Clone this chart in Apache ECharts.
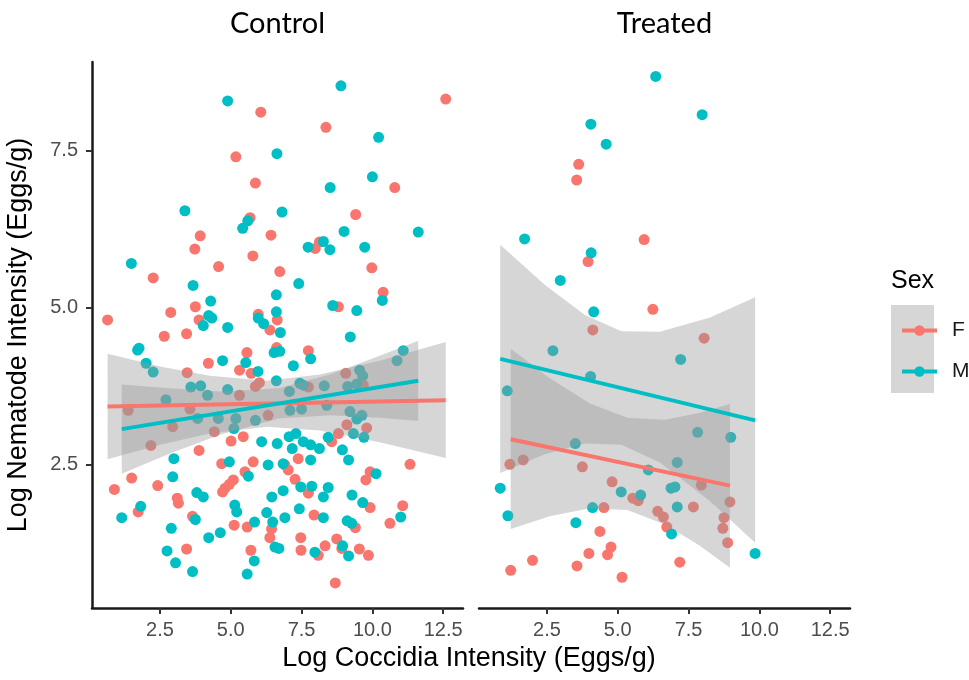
<!DOCTYPE html>
<html>
<head>
<meta charset="utf-8">
<title>Nematode vs Coccidia</title>
<style>
  body { margin: 0; background: #fff; }
  #main { width: 969px; height: 680px; }
</style>
</head>
<body>
<div id="main"></div>
<script src="https://cdn.jsdelivr.net/npm/echarts@6/dist/echarts.min.js"></script>
<script>
// data: [coccidia, nematode]
var ctrlF = [
  [12.59,8.32],[6.06,8.11],[8.36,7.87],[5.18,7.40],[10.79,6.91],[5.87,6.98],[9.41,6.48],[5.68,6.43],[3.92,6.14],[6.42,6.15],
  [8.13,6.04],[7.98,5.94],[3.73,5.93],[5.78,5.82],[4.57,5.65],[9.98,5.63],[6.73,5.57],[2.26,5.47],[10.38,5.24],[8.80,5.01],
  [3.75,5.01],[2.88,4.92],[0.65,4.80],[3.88,4.80],[5.97,4.89],[6.64,4.80],[6.38,4.64],[2.65,4.54],[3.44,4.58],[5.57,4.28],
  [6.62,4.36],[7.74,4.31],[4.21,4.11],[3.46,3.96],[5.31,4.00],[5.72,3.95],[9.06,3.95],[6.01,3.80],[5.87,3.74],[5.31,3.60],
  [7.74,3.73],[9.68,3.76],[1.38,3.36],[3.56,3.38],[6.32,3.28],[2.95,3.10],[4.42,3.02],[9.10,3.13],[9.80,3.08],[2.18,2.80],
  [5.44,2.94],[5.01,2.87],[8.56,2.86],[8.80,2.99],[3.88,2.72],[4.68,2.51],[5.79,2.54],[6.91,2.49],[7.38,2.59],[11.33,2.50],
  [1.50,2.28],[5.50,2.38],[7.03,2.41],[7.27,2.26],[9.92,2.38],[9.77,2.25],[0.89,2.10],[2.42,2.16],[5.09,2.25],[4.95,2.18],
  [4.80,2.12],[4.71,2.06],[7.74,2.04],[3.11,1.96],[3.15,1.88],[9.92,1.81],[11.07,1.84],[1.73,1.74],[7.94,1.69],[3.65,1.67],
  [9.40,1.49],[10.62,1.56],[5.12,1.53],[5.58,1.50],[6.44,1.47],[6.38,1.33],[7.47,1.33],[8.74,1.31],[3.44,1.15],[5.71,1.13],
  [7.48,1.13],[8.33,1.20],[8.92,1.16],[8.09,1.05],[9.54,1.15],[9.86,1.05],[8.69,0.61]
];
var ctrlM = [
  [8.89,8.53],[4.89,8.29],[10.22,7.71],[6.63,7.45],[10.00,7.08],[8.51,6.91],[3.38,6.54],[6.81,6.52],[5.60,6.38],[5.42,6.26],
  [11.62,6.20],[9.00,6.21],[8.27,6.05],[7.73,5.96],[8.50,5.92],[9.73,5.96],[1.49,5.70],[7.40,5.38],[3.67,5.35],[6.61,5.20],
  [10.35,5.11],[4.29,5.10],[8.60,5.03],[9.45,4.95],[4.22,4.87],[4.33,4.83],[4.03,4.71],[4.89,4.68],[6.61,4.93],[6.16,4.74],
  [6.75,4.60],[5.97,4.83],[9.22,4.53],[1.76,4.35],[1.71,4.32],[6.53,4.28],[6.73,4.30],[7.82,4.18],[11.09,4.31],[10.87,4.15],
  [4.71,4.15],[5.53,4.12],[2.01,4.11],[2.26,3.97],[5.96,3.98],[7.21,4.07],[9.55,4.00],[6.61,3.83],[3.59,3.73],[3.94,3.75],
  [4.18,3.60],[4.89,3.69],[7.07,3.66],[7.44,3.79],[7.56,3.76],[8.30,3.75],[9.13,3.74],[9.45,3.78],[9.66,3.91],[2.71,3.53],
  [3.83,3.23],[4.56,3.23],[5.18,3.23],[5.87,3.20],[7.09,3.36],[7.50,3.38],[8.39,3.44],[9.21,3.34],[9.63,3.28],[9.45,3.22],
  [5.11,3.07],[9.33,2.99],[9.70,2.93],[6.09,2.86],[6.64,2.83],[7.06,2.94],[7.30,2.99],[7.17,2.75],[7.56,2.86],[7.82,2.81],
  [8.13,2.75],[8.44,2.93],[8.94,2.73],[2.99,2.59],[4.95,2.54],[6.32,2.49],[6.85,2.51],[7.82,2.57],[9.16,2.57],[2.95,2.30],
  [5.62,2.31],[10.13,2.35],[7.47,2.14],[7.86,2.15],[8.44,2.13],[6.85,2.08],[6.45,1.98],[8.27,1.98],[3.80,2.05],[4.03,1.98],
  [9.28,2.01],[9.66,1.89],[1.82,1.83],[1.15,1.65],[5.14,1.85],[5.21,1.74],[6.27,1.73],[7.42,1.79],[6.91,1.65],[8.27,1.65],
  [3.75,1.62],[6.48,1.58],[5.84,1.58],[11.00,1.66],[9.11,1.60],[9.27,1.56],[2.90,1.48],[4.63,1.41],[4.22,1.33],[6.56,1.18],
  [6.70,1.16],[2.75,1.12],[7.97,1.10],[8.95,1.20],[9.16,1.04],[3.05,0.93],[5.83,0.96],[3.65,0.79],[5.58,0.75]
];
var trtF = [
  [3.62,7.28],[3.55,7.03],[5.93,6.08],[3.95,5.73],[6.24,4.97],[4.12,4.64],[8.05,4.51],[1.19,2.50],[1.66,2.57],[3.75,2.46],
  [4.80,2.22],[7.95,2.17],[5.53,1.96],[5.72,1.92],[8.96,1.90],[7.67,1.82],[4.51,1.81],[6.41,1.75],[6.61,1.66],[8.75,1.65],
  [6.73,1.50],[8.71,1.48],[4.37,1.43],[8.88,1.25],[4.76,1.18],[4.64,1.06],[3.98,1.08],[1.99,0.97],[1.22,0.81],[3.56,0.88],
  [7.19,0.94],[5.15,0.70]
];
var trtM = [
  [6.34,8.68],[7.98,8.07],[4.05,7.92],[4.59,7.60],[1.71,6.09],[4.06,5.87],[2.97,5.43],[4.15,4.93],[2.71,4.31],[7.22,4.17],
  [4.04,3.90],[1.10,3.67],[7.82,3.01],[8.99,2.93],[3.50,2.83],[7.10,2.53],[6.08,2.41],[5.12,2.06],[5.81,2.01],[6.88,2.12],
  [7.02,2.14],[0.85,2.12],[7.10,1.82],[4.11,1.81],[1.12,1.68],[3.52,1.57],[6.90,1.39],[9.85,1.08]
];

// fitted lines (end points) and confidence bands [x, lower, upper]
var fitCtrlF = [[0.65,3.42],[12.59,3.52]];
var fitCtrlM = [[1.15,3.06],[11.62,3.83]];
var fitTrtF = [[1.22,2.90],[8.96,2.16]];
var fitTrtM = [[0.85,4.18],[9.85,3.20]];

var bandCtrlF = [[0.65,2.58,4.26],[2.50,2.81,4.06],[4.26,2.99,3.91],[6.27,3.10,3.83],[8.14,3.04,3.93],[10.26,2.85,4.15],[12.59,2.60,4.45]];
var bandCtrlM = [[1.15,2.35,3.77],[2.85,2.67,3.71],[4.62,2.97,3.66],[6.69,3.23,3.71],[8.50,3.28,3.93],[10.26,3.24,4.23],[11.62,3.19,4.47]];
var bandTrtF = [[1.22,1.47,4.34],[2.60,1.67,3.87],[4.02,1.80,3.47],[5.34,1.77,3.24],[6.67,1.54,3.21],[7.90,1.20,3.32],[8.96,0.85,3.46]];
var bandTrtM = [[0.85,2.36,6.00],[2.42,2.66,5.36],[3.84,2.83,4.88],[5.13,2.81,4.62],[6.49,2.53,4.61],[8.26,1.91,4.84],[9.85,1.25,5.16]];

var xTicks = [2.5, 5, 7.5, 10, 12.5];
var yTicks = [2.5, 5, 7.5];
var panels = ['Control', 'Treated'];
var sexes = ['F', 'M'];

var RED = '#F8766D', TEAL = '#00BFC4';
var FONT = '"Liberation Sans", Arial, sans-serif';

var myChart = echarts.init(document.getElementById('main'));

function xAxis(gi) {
  return {
    type: 'value', gridIndex: gi, min: 0.1, max: 13.2,
    splitLine: { show: false },
    axisLine: { lineStyle: { color: '#1a1a1a', width: 2.5 } },
    axisTick: { customValues: xTicks, length: 6, lineStyle: { color: '#333', width: 2 } },
    axisLabel: {
      customValues: xTicks, margin: 12, color: '#4d4d4d', fontSize: 20, fontFamily: FONT,
      formatter: function (v) { return v.toFixed(1); }
    }
  };
}

function fit(data, gi, name, color) {
  return {
    type: 'line', name: name, xAxisIndex: gi, yAxisIndex: gi, data: data, z: 4,
    showSymbol: false, symbol: 'circle', silent: true,
    itemStyle: { color: color },
    lineStyle: { color: color, width: 4 }
  };
}

function pts(data, gi, name, color) {
  return {
    type: 'scatter', name: name, xAxisIndex: gi, yAxisIndex: gi, data: data, z: 1,
    symbolSize: 11, silent: true,
    itemStyle: { color: color, opacity: 1 }
  };
}

function band(data, gi) {
  return {
    type: 'custom', xAxisIndex: gi, yAxisIndex: gi, data: data, z: 2, silent: true,
    encode: { x: 0, y: [1, 2] },
    renderItem: function (params, api) {
      if (params.dataIndex !== 0) return null;
      var top = data.map(function (d) { return api.coord([d[0], d[2]]); });
      var bot = data.map(function (d) { return api.coord([d[0], d[1]]); }).reverse();
      return {
        type: 'polygon',
        shape: { points: top.concat(bot) },
        style: { fill: 'rgba(153,153,153,0.4)' }
      };
    }
  };
}

var option = {
  animation: false,
  grid: [
    { left: 92, top: 62, width: 371, height: 546 },
    { left: 479, top: 62, width: 371, height: 546 }
  ],
  xAxis: [xAxis(0), xAxis(1)],
  yAxis: [
    {
      type: 'value', gridIndex: 0, min: 0.21, max: 8.91,
      splitLine: { show: false },
      axisLine: { show: true, lineStyle: { color: '#1a1a1a', width: 2.5 } },
      axisTick: { show: true, customValues: yTicks, length: 6, lineStyle: { color: '#333', width: 2 } },
      axisLabel: {
        customValues: yTicks, margin: 14, color: '#4d4d4d', fontSize: 20, fontFamily: FONT,
        formatter: function (v) { return v.toFixed(1); }
      },
      name: 'Log Nematode Intensity (Eggs/g)',
      nameLocation: 'middle', nameGap: 60,
      nameTextStyle: { color: '#000', fontSize: 27, fontFamily: FONT }
    },
    {
      type: 'value', gridIndex: 1, min: 0.21, max: 8.91,
      splitLine: { show: false }, axisLine: { show: false },
      axisTick: { show: false }, axisLabel: { show: false }
    }
  ],
  legend: {
    data: sexes,
    orient: 'vertical',
    left: 895, top: 315,
    itemWidth: 35, itemHeight: 13, itemGap: 20,
    selectedMode: false,
    lineStyle: { width: 4 },
    textStyle: { color: '#1a1a1a', fontSize: 21, fontFamily: FONT, padding: [0, 0, 0, 10] }
  },
  graphic: [
    { type: 'rect', shape: { x: 891, y: 305, width: 43, height: 88 }, style: { fill: '#d6d6d6' }, z: -1 },
    { type: 'text', x: 891, y: 281, style: { text: 'Sex', font: '25px ' + FONT, fill: '#000', verticalAlign: 'middle' } },
    { type: 'text', x: 277.5, y: 24, style: { text: panels[0], font: '29px Lato, sans-serif', fill: '#000', align: 'center', verticalAlign: 'middle' } },
    { type: 'text', x: 664.5, y: 24, style: { text: panels[1], font: '29px Lato, sans-serif', fill: '#000', align: 'center', verticalAlign: 'middle' } },
    { type: 'text', x: 469, y: 659, style: { text: 'Log Coccidia Intensity (Eggs/g)', font: '27px ' + FONT, fill: '#000', align: 'center', verticalAlign: 'middle' } }
  ],
  series: [
    fit(fitCtrlF, 0, 'F', RED),
    fit(fitCtrlM, 0, 'M', TEAL),
    fit(fitTrtF, 1, 'F', RED),
    fit(fitTrtM, 1, 'M', TEAL),
    pts(ctrlF, 0, 'F', RED),
    pts(ctrlM, 0, 'M', TEAL),
    pts(trtF, 1, 'F', RED),
    pts(trtM, 1, 'M', TEAL),
    band(bandCtrlF, 0),
    band(bandCtrlM, 0),
    band(bandTrtF, 1),
    band(bandTrtM, 1)
  ]
};
myChart.setOption(option);
</script>
</body>
</html>
